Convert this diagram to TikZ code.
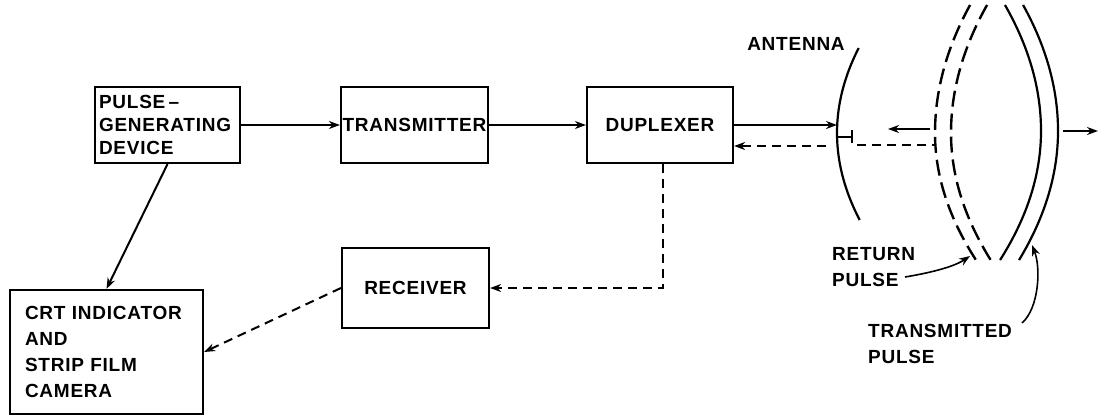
\documentclass[tikz,border=0pt]{standalone}
\usepackage{fontspec}
\setmainfont{Liberation Sans}[LetterSpace=4]
\usetikzlibrary{arrows.meta}
\newcommand{\lblfont}[1]{\fontsize{19}{#1}\selectfont\bfseries}
\tikzset{
  box/.style={draw, line width=2.2pt, inner ysep=0pt},
  conn/.style={line width=2pt, -{Stealth[length=11pt,width=8pt]}},
  dconn/.style={conn, dash pattern=on 9pt off 6pt},
  wave/.style={line width=2.2pt},
  dwave/.style={line width=2.4pt, dash pattern=on 16pt off 7pt},
  lbl/.style={inner sep=0pt, align=left, font=\lblfont{26}},
  pointer/.style={line width=1.6pt, -{Stealth[length=11pt,width=8pt]}},
}
\begin{document}
\begin{tikzpicture}[x=1pt,y=-1pt]
\useasboundingbox (0,0) rectangle (1099,415);
% boxes
\node[box, minimum width=145, minimum height=76, inner xsep=4, text width=137, align=left, font=\lblfont{23}] (pulse) at (167.5,125) {PULSE\,--\\GENERATING\\DEVICE};
\node[box, minimum width=147, minimum height=76, inner xsep=0, font=\lblfont{23}] (tx) at (414.5,125) {TRANSMITTER};
\node[box, minimum width=146, minimum height=76, inner xsep=0, font=\lblfont{23}] (dup) at (660,125) {DUPLEXER};
\node[box, minimum width=147, minimum height=80, inner xsep=0, font=\lblfont{23}] (rx) at (415.5,288) {RECEIVER};
\node[box, minimum width=193, minimum height=124, inner xsep=15, text width=163, align=left, font=\lblfont{26}] (crt) at (106.5,352) {CRT INDICATOR\\AND\\STRIP FILM\\CAMERA};
% labels
\node[lbl] (antlbl) at (796,44) {ANTENNA};
\node[lbl, anchor=west] (retlbl) at (832,267) {RETURN\\PULSE};
\node[lbl, anchor=west] (trlbl) at (868,343.5) {TRANSMITTED\\PULSE};
% coordinates
\coordinate (ant) at (837,125);
\coordinate (retstart) at (826,146);
\coordinate (la1) at (930,129);
\coordinate (la2) at (888,129);
\coordinate (ra1) at (1063,131);
\coordinate (ra2) at (1098,131);
\coordinate (rp1) at (905,277);
\coordinate (rp2) at (970,256);
\coordinate (tp1) at (1022,323);
\coordinate (tp2) at (1032,245);
% connectors
\draw[conn] (pulse.east) -- (tx.west);
\draw[conn] (tx.east) -- (dup.west);
\draw[conn] (dup.east) -- (ant);
\draw[conn] (pulse.south) -- (crt.north);
\draw[dconn] (retstart) -- (dup.east |- retstart);
\draw[dconn] ([xshift=3pt]dup.south) |- (rx.east);
\draw[dconn] (rx.west) -- (crt.east);
\draw[conn] (la1) -- (la2);
\draw[conn] (ra1) -- (ra2);
\draw[pointer] (rp1) .. controls (935,272) and (955,266) .. (rp2);
\draw[pointer] (tp1) .. controls (1039,308) and (1041,268) .. (tp2);
% antenna and feed
\draw[wave] plot[domain=48:220,samples=40,smooth] ({837+0.3*((\x-133)/10)^2},\x);
\draw[wave] (837,137) -- (852,137) (852,130) -- (852,143);
\draw[wave, dash pattern=on 9pt off 6pt] (857,145) -- (934,145);
% return pulse (dashed)
\draw[dwave] plot[domain=5:260,samples=60,smooth] ({935+(\x<133 ? 0.214 : 0.254)*((\x-133)/10)^2},\x);
\draw[dwave] plot[domain=5:262,samples=60,smooth] ({951+(\x<133 ? 0.22 : 0.246)*((\x-133)/10)^2},\x);
% transmitted pulse (solid)
\draw[wave] plot[domain=5:260,samples=60,smooth] ({1041-(\x<131 ? 0.227 : 0.246)*((\x-131)/10)^2},\x);
\draw[wave] plot[domain=5:260,samples=60,smooth] ({1058-(\x<131 ? 0.22 : 0.234)*((\x-131)/10)^2},\x);
\end{tikzpicture}
\end{document}
